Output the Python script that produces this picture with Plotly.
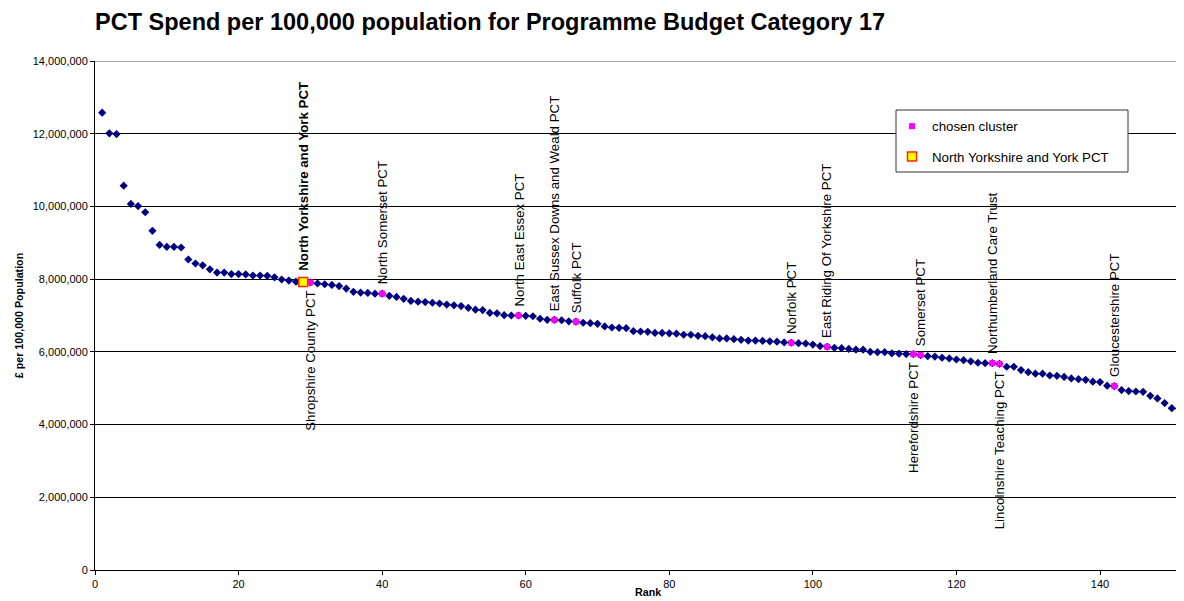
import plotly.graph_objects as go

# ---------------- data ----------------
ranks = list(range(1, 153))
spend = [
    12580000, 12010000, 11990000, 10570000, 10070000, 10010000, 9840000, 9330000, 8940000, 8890000,
    8890000, 8870000, 8540000, 8430000, 8380000, 8270000, 8180000, 8180000, 8140000, 8140000,
    8130000, 8100000, 8100000, 8090000, 8050000, 7990000, 7960000, 7930000, 7920000, 7910000,
    7880000, 7860000, 7840000, 7810000, 7740000, 7650000, 7630000, 7620000, 7600000, 7600000,
    7540000, 7510000, 7460000, 7400000, 7380000, 7370000, 7350000, 7330000, 7300000, 7280000,
    7260000, 7210000, 7160000, 7150000, 7070000, 7060000, 7010000, 7000000, 7000000, 6990000,
    6980000, 6910000, 6880000, 6880000, 6870000, 6840000, 6830000, 6800000, 6790000, 6770000,
    6700000, 6670000, 6660000, 6650000, 6570000, 6560000, 6550000, 6520000, 6520000, 6510000,
    6500000, 6470000, 6470000, 6440000, 6430000, 6400000, 6370000, 6370000, 6350000, 6330000,
    6310000, 6310000, 6300000, 6290000, 6280000, 6260000, 6250000, 6240000, 6230000, 6200000,
    6160000, 6140000, 6110000, 6100000, 6080000, 6060000, 6060000, 6000000, 5990000, 5990000,
    5960000, 5950000, 5940000, 5940000, 5910000, 5880000, 5870000, 5840000, 5820000, 5790000,
    5770000, 5740000, 5700000, 5690000, 5690000, 5670000, 5590000, 5590000, 5500000, 5440000,
    5400000, 5400000, 5350000, 5340000, 5310000, 5270000, 5250000, 5230000, 5180000, 5170000,
    5070000, 5060000, 4950000, 4920000, 4910000, 4900000, 4790000, 4720000, 4590000, 4450000,
    4440000, 4400000,
]

home_rank = 29
home_name = "North Yorkshire and York PCT"

cluster_ranks = [30, 40, 59, 64, 67, 97, 102, 114, 115, 125, 126, 142]
cluster_names = [
    "Shropshire County PCT", "North Somerset PCT", "North East Essex PCT",
    "East Sussex Downs and Weald PCT", "Suffolk PCT", "Norfolk PCT",
    "East Riding Of Yorkshire PCT", "Herefordshire PCT", "Somerset PCT",
    "Northumberland Care Trust", "Lincolnshire Teaching PCT", "Gloucestershire PCT",
]
labels_below = {"Shropshire County PCT", "Herefordshire PCT", "Lincolnshire Teaching PCT"}

x_ticks = [0, 20, 40, 60, 80, 100, 120, 140]
y_ticks = [0, 2000000, 4000000, 6000000, 8000000, 10000000, 12000000, 14000000]

title_text = "PCT Spend per 100,000 population for Programme Budget Category 17"
x_title = "Rank"
y_title = "£ per 100,000 Population"

# ---------------- figure ----------------
FONT = "Liberation Sans, Arial, sans-serif"
value_of = dict(zip(ranks, spend))
cluster_vals = [value_of[r] for r in cluster_ranks]

# page offset of the figure (body margin) and page-pixel plot area
OFF = 8
FIG_W, FIG_H = 1184 - OFF, 601 - OFF
L, R, T, B = 95, 1184, 61, 570          # plot area in page pixels


def px(xp):
    return (xp - L) / (R - L)


def py(yp):
    return (B - yp) / (B - T)


fig = go.Figure()
fig.add_trace(go.Scatter(
    x=ranks, y=spend, mode="markers", showlegend=False,
    marker=dict(symbol="diamond", color="#000080", size=6.3, line=dict(width=0)),
))
fig.add_trace(go.Scatter(
    x=cluster_ranks, y=cluster_vals, mode="markers", name="chosen cluster",
    legendgroup="a",
    marker=dict(symbol="square", color="#FF00FF", size=6, line=dict(width=0)),
))
fig.add_trace(go.Scatter(
    x=[home_rank], y=[value_of[home_rank]], mode="markers", name=home_name,
    legendgroup="b",
    marker=dict(symbol="square", color="#FFFF00", size=9, line=dict(color="#FF2A00", width=1.5)),
))

annotations = []
annotations.append(dict(
    x=home_rank, y=value_of[home_rank], xref="x", yref="y",
    text="<b>" + home_name + "</b>", showarrow=False, textangle=-90,
    xanchor="center", yanchor="bottom", yshift=9,
    font=dict(family=FONT, size=13.3, color="black"),
))
for r, name, v in zip(cluster_ranks, cluster_names, cluster_vals):
    below = name in labels_below
    annotations.append(dict(
        x=r, y=v, xref="x", yref="y", text=name, showarrow=False, textangle=-90,
        xanchor="center", yanchor="top" if below else "bottom",
        yshift=-6 if below else 7,
        font=dict(family=FONT, size=13.3, color="black"),
    ))
annotations.append(dict(
    x=px(648), y=py(592), xref="paper", yref="paper", text="<b>" + x_title + "</b>",
    showarrow=False, xanchor="center", yanchor="middle",
    font=dict(family=FONT, size=10.7, color="black"),
))

# legend box
fig.add_shape(type="rect", xref="paper", yref="paper",
              x0=px(896), x1=px(1128), y0=py(172), y1=py(110),
              fillcolor="white", line=dict(color="#333333", width=1), layer="above")
# top gridline at the axis maximum
fig.add_shape(type="line", xref="paper", yref="y", x0=0, x1=1,
              y0=y_ticks[-1], y1=y_ticks[-1], line=dict(color="#555555", width=1),
              layer="below")

fig.update_layout(
    width=FIG_W, height=FIG_H,
    margin=dict(l=L - OFF, r=FIG_W - (R - OFF), t=T - OFF, b=FIG_H - (B - OFF)),
    paper_bgcolor="white", plot_bgcolor="white",
    font=dict(family=FONT, color="black"),
    title=dict(text="<b>" + title_text + "</b>", x=(95 - OFF) / FIG_W, xanchor="left",
               xref="container", y=1 - (22 - OFF) / FIG_H, yanchor="middle", yref="container",
               font=dict(family=FONT, size=23.5, color="black")),
    annotations=annotations,
    showlegend=True,
    legend=dict(x=px(892), y=py(111), xanchor="left", yanchor="top",
                bgcolor="rgba(0,0,0,0)", borderwidth=0,
                font=dict(family=FONT, size=13.3, color="black"),
                traceorder="grouped", tracegroupgap=10),
    xaxis=dict(range=[0, 151.7], tickvals=x_ticks, showgrid=False, zeroline=False,
               showline=True, linecolor="black", linewidth=1,
               ticks="outside", ticklen=4, tickcolor="black",
               tickfont=dict(family=FONT, size=11, color="black")),
    yaxis=dict(range=[0, 14000000], tickvals=y_ticks, tickformat=",", showgrid=True,
               gridcolor="black", gridwidth=1, zeroline=False,
               showline=True, linecolor="black", linewidth=1,
               ticks="outside", ticklen=4, tickcolor="black",
               tickfont=dict(family=FONT, size=11, color="black"),
               title=dict(text="<b>" + y_title + "</b>", standoff=6,
                          font=dict(family=FONT, size=10.7, color="black"))),
)

fig.write_html("out.html")
